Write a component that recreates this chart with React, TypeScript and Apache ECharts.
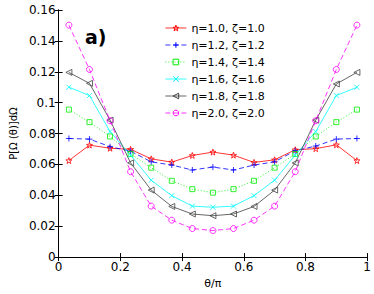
import React, { useEffect, useRef } from "react";
import * as echarts from "echarts";

const thetaOverPi = [0.0333, 0.1, 0.1667, 0.2333, 0.3, 0.3667, 0.4333, 0.5, 0.5667, 0.6333, 0.7, 0.7667, 0.8333, 0.9, 0.9667];

const seriesNames = [
  "η=1.0, ζ=1.0",
  "η=1.2, ζ=1.2",
  "η=1.4, ζ=1.4",
  "η=1.6, ζ=1.6",
  "η=1.8, ζ=1.8",
  "η=2.0, ζ=2.0",
];

const eta10 = [0.0625, 0.0725, 0.0705, 0.0698, 0.0636, 0.0615, 0.0658, 0.068, 0.066, 0.0613, 0.063, 0.0695, 0.0702, 0.0727, 0.0625];
const eta12 = [0.0768, 0.0764, 0.0715, 0.0686, 0.0617, 0.0596, 0.0564, 0.0583, 0.0564, 0.0596, 0.0617, 0.0689, 0.0719, 0.0764, 0.0768];
const eta14 = [0.0955, 0.0874, 0.0781, 0.0668, 0.0579, 0.0494, 0.044, 0.0417, 0.044, 0.0494, 0.0579, 0.0668, 0.0781, 0.0874, 0.0955];
const eta16 = [0.110, 0.1046, 0.0813, 0.066, 0.0498, 0.0398, 0.033, 0.0323, 0.033, 0.0398, 0.0498, 0.066, 0.0813, 0.1046, 0.110];
const eta18 = [0.1196, 0.1125, 0.0887, 0.061, 0.0434, 0.0328, 0.0279, 0.0268, 0.0279, 0.0328, 0.0434, 0.061, 0.0887, 0.1121, 0.1196];
const eta20 = [0.1502, 0.1215, 0.0883, 0.0553, 0.033, 0.0239, 0.0185, 0.0172, 0.0185, 0.0239, 0.033, 0.0553, 0.0883, 0.1215, 0.1502];

const allValues = [eta10, eta12, eta14, eta16, eta18, eta20];

const colors = ["#ff0000", "#0000ff", "#00ee00", "#00ffff", "#404040", "#ff00ff"];
const lineTypes: any[] = ["solid", [5, 3], [1, 2], "solid", "solid", [5, 3]];
const symbols = [
  "path://M5,0L6.18,3.38L9.76,3.45L6.9,5.62L7.94,9.05L5,7L2.06,9.05L3.1,5.62L0.24,3.45L3.82,3.38Z",
  "path://M5,0L5,10M0,5L10,5",
  "path://M0,0L10,0L10,10L0,10Z",
  "path://M0,0L10,10M10,0L0,10",
  "path://M0,5L10,0L10,10Z",
  "path://M5,0A5,5 0 1,1 4.99,0Z",
];
const symbolSizes = [6, 6, 5, 5, 6, 6];

const FONT = "DejaVu Sans";

export default function App() {
  const ref = useRef<HTMLDivElement>(null);
  useEffect(() => {
    if (!ref.current) return;
    const chart = echarts.init(ref.current, undefined, { renderer: "svg" });
    const axisCommon = {
      min: 0,
      axisLine: { show: true, lineStyle: { color: "#000", width: 1 } },
      axisTick: { show: true, inside: true, length: 4, lineStyle: { color: "#000" } },
      splitLine: { show: false },
    };
    chart.setOption({
      animation: false,
      backgroundColor: "#fff",
      textStyle: { fontFamily: FONT },
      grid: { left: 49, top: 10, right: 6.5, bottom: 33.3, containLabel: false },
      xAxis: [
        {
          ...axisCommon,
          type: "value",
          max: 1,
          interval: 0.2,
          name: "θ/π",
          nameLocation: "middle",
          nameGap: 17,
          nameTextStyle: { fontSize: 11, color: "#000", fontFamily: FONT },
          axisLabel: { fontSize: 12, color: "#000", margin: 4, fontFamily: FONT },
        },
        {
          ...axisCommon,
          type: "value",
          position: "top",
          max: 1,
          interval: 0.2,
          axisLabel: { show: false },
        },
      ],
      yAxis: [
        {
          ...axisCommon,
          type: "value",
          max: 0.16,
          interval: 0.02,
          name: "P[Ω (θ)]dΩ",
          nameLocation: "middle",
          nameGap: 36,
          nameRotate: 90,
          nameTextStyle: { fontSize: 10, color: "#000", fontFamily: FONT },
          axisLabel: { fontSize: 12, color: "#000", margin: 3, fontFamily: FONT },
        },
        {
          ...axisCommon,
          type: "value",
          position: "right",
          max: 0.16,
          interval: 0.02,
          axisLabel: { show: false },
        },
      ],
      legend: {
        orient: "vertical",
        left: 160,
        top: 17,
        itemWidth: 21,
        itemHeight: 7,
        itemGap: 5,
        data: seriesNames.map((n, i) => ({
          name: n,
          itemStyle: { color: "rgba(0,0,0,0)", borderColor: colors[i], borderWidth: 1 },
          lineStyle: { color: colors[i], width: 0.8, type: lineTypes[i] },
        })),
        textStyle: { fontSize: 11, color: "#000", fontFamily: FONT, lineHeight: 12 },
      },
      graphic: [
        {
          type: "text",
          left: 85,
          top: 27,
          style: { text: "a)", font: `bold 19px ${FONT}`, fill: "#000" },
        },
      ],
      series: allValues.map((vals, i) => ({
        name: seriesNames[i],
        type: "line",
        xAxisIndex: 0,
        yAxisIndex: 0,
        data: vals.map((v, j) => [thetaOverPi[j], v]),
        symbol: symbols[i],
        symbolSize: symbolSizes[i],
        showAllSymbol: true,
        lineStyle: { color: colors[i], width: 0.8, type: lineTypes[i] },
        itemStyle: { color: "rgba(0,0,0,0)", borderColor: colors[i], borderWidth: 0.8 },
        emphasis: { disabled: true },
      })),
    });
    return () => chart.dispose();
  }, []);
  return <div ref={ref} style={{ width: 374, height: 294, position: "absolute", left: 0, top: 0 }} />;
}
